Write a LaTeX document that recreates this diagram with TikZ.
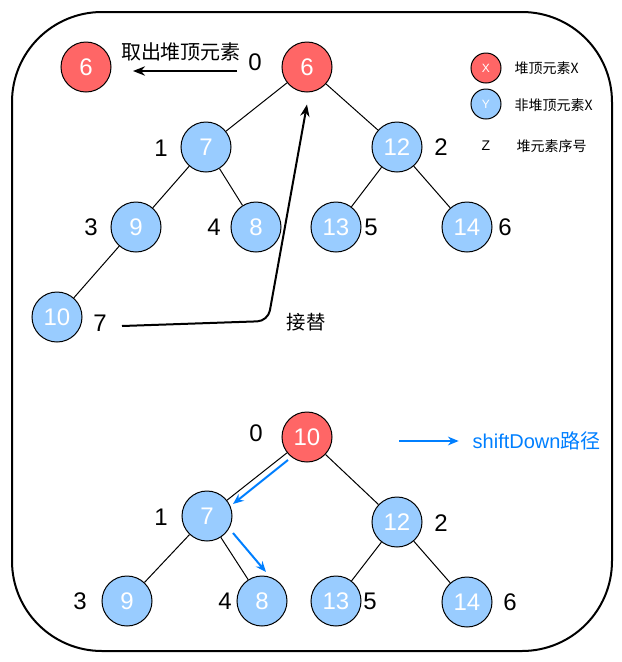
\documentclass[tikz,border=0pt]{standalone}
\usepackage{fontspec}
\setmainfont{Liberation Sans}
\newfontfamily\cjk{Noto Sans CJK SC}
\usepackage{xcolor}
\usepackage{tikz}
\usetikzlibrary{positioning, calc, arrows.meta}
\definecolor{nodered}{RGB}{255, 102, 102}
\definecolor{nodeblue}{RGB}{153, 204, 255}
\definecolor{pathblue}{RGB}{0, 127, 255}

\begin{document}
\begin{tikzpicture}[x=0.75pt, y=-0.75pt,
        heapnode/.style={circle, draw=black, line width=0.75pt, text=white, font=\fontsize{18}{20}\selectfont, minimum size=37.5pt, inner sep=0pt},
        topnode/.style={heapnode, fill=nodered},
        subnode/.style={heapnode, fill=nodeblue},
        idx/.style={font=\fontsize{18}{20}\selectfont, inner sep=0pt},
        edge/.style={line width=0.75pt},
        blackarrow/.style={line width=1.5pt, -{Stealth[length=9pt, width=7pt]}},
        bluearrow/.style={line width=1.5pt, draw=pathblue, -{Stealth[length=8pt, width=6.5pt]}}]
    \useasboundingbox (0,0) rectangle (622,662);
    \draw[line width=1.5pt, rounded corners=67.5pt] (12,12) rectangle (612,651);

    % Cây trên: lấy phần tử đỉnh heap ra
    \node[topnode] (out6) at (86,67) {6};
    \node[topnode] (n6) at (307,67) {6};
    \node[subnode] (n7) at (206,147) {7};
    \node[subnode] (n12) at (397,147) {12};
    \node[subnode] (n9) at (136,227) {9};
    \node[subnode] (n8) at (256,227) {8};
    \node[subnode] (n13) at (336,227) {13};
    \node[subnode] (n14) at (467,227) {14};
    \node[subnode] (n10) at (57,317) {10};
    \draw[edge] (n6) -- (n7);
    \draw[edge] (n6) -- (n12);
    \draw[edge] (n7) -- (n9);
    \draw[edge] (n7) -- (n8);
    \draw[edge] (n12) -- (n13);
    \draw[edge] (n12) -- (n14);
    \draw[edge] (n9) -- (n10);
    \node[idx] (i0) at (255,62) {0};
    \node[idx] (i1) at (161,148) {1};
    \node[idx] (i2) at (441,147) {2};
    \node[idx] (i3) at (91,227) {3};
    \node[idx] (i4) at (214,227) {4};
    \node[idx] (i5) at (371,227) {5};
    \node[idx] (i6) at (505,227) {6};
    \node[idx] (i7) at (100,323) {7};

    \node[font=\fontsize{15}{17}\selectfont\cjk] (outtext) at (181,52) {取出堆顶元素};
    \coordinate (outstart) at (237,71);
    \coordinate (outend) at (133,71);
    \draw[blackarrow] (outstart) -- (outend);

    \node[font=\fontsize{14.5}{16}\selectfont\cjk] (swap) at (306,322) {接替};
    \coordinate (swapstart) at (122,326);
    \draw[blackarrow, rounded corners=8pt] (swapstart) -- (268,321) -- ([yshift=-9pt]n6.south);

    % Chú thích
    \node[topnode, minimum size=22.5pt, font=\fontsize{9}{10}\selectfont] (legx) at (486,68) {X};
    \node[anchor=west, font=\fontsize{10.5}{12}\selectfont\cjk] (legxt) at (510,68) {堆顶元素X};
    \node[subnode, minimum size=22.5pt, font=\fontsize{9}{10}\selectfont] (legy) at (486,104) {Y};
    \node[anchor=west, font=\fontsize{10.5}{12}\selectfont\cjk] (legyt) at (510,105) {非堆顶元素X};
    \node[font=\fontsize{10.5}{12}\selectfont] (legz) at (486,146) {Z};
    \node[anchor=west, font=\fontsize{10.5}{12}\selectfont\cjk] (legzt) at (512,146) {堆元素序号};

    % Cây dưới: shiftDown
    \node[topnode] (m10) at (307,437) {10};
    \node[subnode] (m7) at (207,516) {7};
    \node[subnode] (m12) at (397,522) {12};
    \node[subnode] (m9) at (127,601) {9};
    \node[subnode] (m8) at (262,601) {8};
    \node[subnode] (m13) at (336,601) {13};
    \node[subnode] (m14) at (467,602) {14};
    \draw[edge] (m10) -- (m7);
    \draw[edge] (m10) -- (m12);
    \draw[edge] (m7) -- (m9);
    \draw[edge] (m7) -- (m8);
    \draw[edge] (m12) -- (m13);
    \draw[edge] (m12) -- (m14);
    \node[idx] (j0) at (256,433) {0};
    \node[idx] (j1) at (161,517) {1};
    \node[idx] (j2) at (441,523) {2};
    \node[idx] (j3) at (80,601) {3};
    \node[idx] (j4) at (225,601) {4};
    \node[idx] (j5) at (370,601) {5};
    \node[idx] (j6) at (510,602) {6};

    \draw[bluearrow] ($(m10)+(-19,23)$) -- ($(m7)+(26,-12)$);
    \draw[bluearrow] ($(m7)+(26,17)$) -- ($(m8)+(4,-29)$);

    \node[anchor=west, text=pathblue, font=\fontsize{15}{17}\selectfont] (legpath) at (468,441) {shiftDown{\cjk 路径}};
    \coordinate (legstart) at (399,441);
    \draw[bluearrow] (legstart) -- ([xshift=-7pt]legpath.west);
\end{tikzpicture}
\end{document}
